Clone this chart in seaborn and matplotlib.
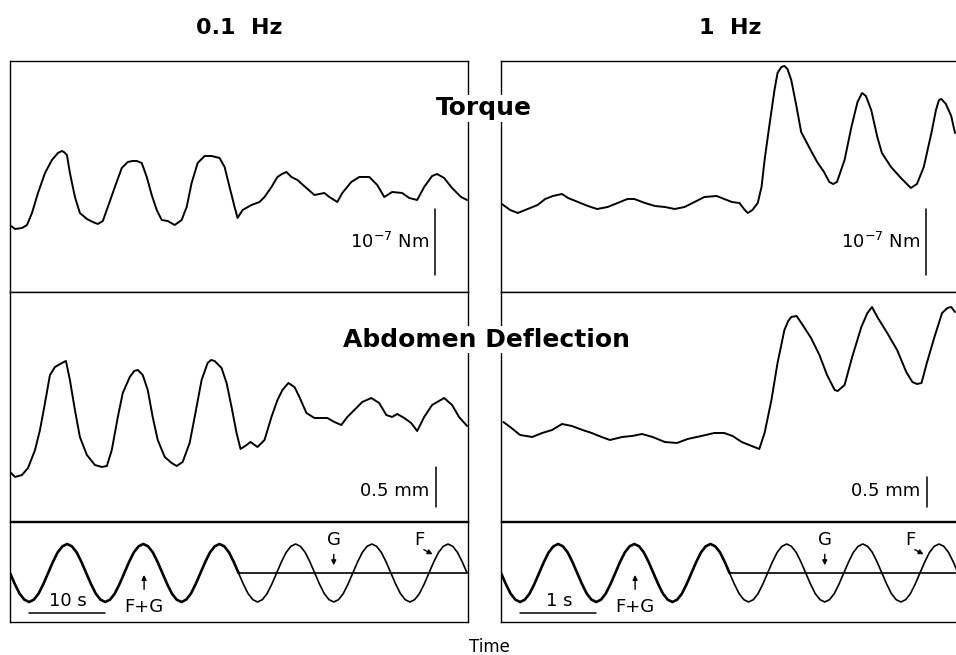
import numpy as np
import matplotlib
matplotlib.use('Agg')
import matplotlib.pyplot as plt
import seaborn as sns

# ---- data (time in s, traces in arbitrary units) ----
# torque, 0.1 Hz stimulation
torque_slow_t = [0.13, 0.66, 1.57, 2.23, 2.88, 3.67, 4.59, 5.50, 6.29, 6.80, 7.07, 7.47, 7.86, 8.52, 9.17,
                 10.09, 10.87, 11.53, 12.18, 12.84, 13.76, 14.67, 15.46, 16.10, 16.64, 17.29, 17.95, 18.60,
                 19.26, 19.91, 20.70, 21.62, 22.53, 23.19, 23.84, 24.63, 25.55, 26.46, 27.51, 28.17,
                 28.82, 29.48, 29.87, 30.53, 31.70, 32.75, 33.41, 34.32, 35.11, 35.70, 36.29, 36.94, 37.73,
                 38.91, 39.96, 41.27, 41.92, 42.97, 43.62, 44.80, 45.85, 47.16, 48.21, 49.13, 50.17,
                 51.48, 52.40, 53.45, 54.37, 55.41, 56.07, 56.99, 58.03, 59.21, 60.00]
torque_slow = [66, 63, 64, 67, 79, 99, 119, 132, 139, 141, 140, 137, 119, 95, 79,
               73, 70, 68, 71, 85, 105, 124, 130, 131, 131, 129, 115, 97,
               82, 72, 71, 67, 72, 85, 109, 129, 136, 136, 134, 125,
               105, 85, 74, 82, 87, 90, 95, 105, 115, 118, 120, 115, 112,
               104, 97, 99, 95, 90, 99, 110, 115, 115, 107, 95, 100,
               99, 94, 92, 105, 116, 118, 114, 104, 95, 92]

# torque, 1 Hz stimulation
torque_fast_t = [0.01, 0.12, 0.22, 0.35, 0.48, 0.58, 0.68, 0.80, 0.88, 1.01, 1.14, 1.26, 1.40, 1.53,
                 1.66, 1.75, 1.89, 2.02, 2.15, 2.28, 2.41, 2.54, 2.67, 2.83, 2.93, 3.03, 3.13, 3.20,
                 3.24, 3.30, 3.37, 3.42, 3.46, 3.52, 3.59, 3.63, 3.68, 3.72, 3.76, 3.81, 3.88, 3.94, 4.05,
                 4.15, 4.24, 4.31, 4.36, 4.41, 4.51, 4.60, 4.68, 4.74, 4.79, 4.86, 4.94, 5.00, 5.12, 5.25,
                 5.38, 5.46, 5.55, 5.65, 5.71, 5.75, 5.78, 5.84, 5.91, 5.96]
torque_fast = [88, 82, 79, 83, 87, 93, 96, 98, 94, 90, 86, 83, 85, 89,
               93, 93, 89, 86, 85, 83, 85, 90, 95, 96, 93, 90, 89, 82,
               79, 82, 89, 105, 132, 165, 202, 219, 225, 226, 223, 212, 185, 160, 144,
               130, 120, 110, 108, 110, 132, 165, 190, 199, 196, 182, 155, 139, 125, 114,
               104, 108, 125, 159, 182, 192, 193, 188, 176, 159]

# abdomen deflection, 0.1 Hz stimulation
defl_slow_t = [0.00, 0.66, 1.57, 2.36, 3.28, 3.93, 4.59, 5.24, 5.90, 6.81, 7.34, 7.86, 8.52, 9.17,
               10.09, 11.14, 12.05, 12.71, 13.36, 14.15, 14.80, 15.72, 16.30, 16.77, 17.42, 18.08, 18.73,
               19.39, 20.31, 21.22, 21.88, 22.66, 23.58, 24.24, 25.15, 25.94, 26.40, 26.86, 27.77, 28.43,
               29.08, 29.74, 30.26, 31.05, 31.57, 32.49, 33.41, 34.32, 35.11, 35.76, 36.55, 37.34,
               37.99, 38.91, 39.96, 41.66, 42.58, 43.49, 44.28, 45.20, 46.24, 47.42, 48.47, 49.39,
               50.17, 50.83, 51.75, 52.66, 53.45, 54.37, 55.41, 56.99, 58.03, 58.95, 60.00]
defl_slow = [49, 44, 46, 53, 71, 91, 118, 146, 154, 158, 160, 141, 111, 84,
             66, 56, 54, 55, 71, 104, 128, 144, 150, 151, 146, 131, 104,
             81, 64, 58, 55, 59, 78, 104, 141, 158, 161, 160, 153, 138,
             114, 88, 72, 76, 79, 74, 81, 104, 121, 131, 138, 134,
             124, 108, 103, 103, 99, 96, 104, 111, 119, 123, 118, 106,
             104, 107, 103, 98, 90, 104, 116, 123, 116, 104, 95]

# abdomen deflection, 1 Hz stimulation
defl_fast_t = [0.03, 0.12, 0.25, 0.41, 0.54, 0.67, 0.80, 0.93, 1.07, 1.19, 1.32, 1.43, 1.59, 1.72,
               1.85, 1.99, 2.15, 2.31, 2.45, 2.63, 2.80, 2.93, 3.04, 3.16, 3.29, 3.39, 3.46, 3.55,
               3.63, 3.72, 3.77, 3.81, 3.88, 3.96, 4.07, 4.18, 4.28, 4.38, 4.42, 4.51, 4.61, 4.73, 4.81, 4.87,
               4.94, 5.07, 5.20, 5.32, 5.40, 5.46, 5.52, 5.59, 5.69, 5.79, 5.86, 5.91, 5.96]
defl_fast = [99, 94, 86, 84, 88, 91, 97, 95, 91, 88, 84, 81, 84, 85,
             87, 84, 79, 78, 82, 85, 88, 88, 85, 79, 75, 72, 88, 121,
             158, 191, 200, 204, 205, 196, 183, 166, 146, 131, 130, 136, 164, 194, 208, 214,
             204, 188, 171, 149, 139, 137, 138, 158, 184, 208, 213, 214, 209]

# stimulus position (sinusoid, amplitude units), 16 samples per cycle
stim_phase = np.linspace(0, 6, 97)  # time in stimulus cycles
stim = [0, -0.38, -0.71, -0.92, -1, -0.92, -0.71, -0.38, 0, 0.38, 0.71, 0.92, 1, 0.92, 0.71, 0.38,
        0, -0.38, -0.71, -0.92, -1, -0.92, -0.71, -0.38, 0, 0.38, 0.71, 0.92, 1, 0.92, 0.71, 0.38,
        0, -0.38, -0.71, -0.92, -1, -0.92, -0.71, -0.38, 0, 0.38, 0.71, 0.92, 1, 0.92, 0.71, 0.38,
        0, -0.38, -0.71, -0.92, -1, -0.92, -0.71, -0.38, 0, 0.38, 0.71, 0.92, 1, 0.92, 0.71, 0.38,
        0, -0.38, -0.71, -0.92, -1, -0.92, -0.71, -0.38, 0, 0.38, 0.71, 0.92, 1, 0.92, 0.71, 0.38,
        0, -0.38, -0.71, -0.92, -1, -0.92, -0.71, -0.38, 0, 0.38, 0.71, 0.92, 1, 0.92, 0.71, 0.38,
        0]
periods = [10.0, 1.0]          # s, for 0.1 Hz and 1 Hz
col_titles = ['0.1  Hz', '1  Hz']
bar_labels = ['10 s', '1 s']
torque_bar = 66                # a.u. corresponding to 10^-7 Nm
defl_bar = [40, 30]            # a.u. corresponding to 0.5 mm

sns.set_theme(style='white')
plt.rcParams['font.family'] = ['DejaVu Sans']
plt.rcParams['text.color'] = 'black'
plt.rcParams['mathtext.default'] = 'regular'

fig = plt.figure(figsize=(9.56, 6.55), dpi=100)

col_x = [0.0105, 0.5241]
col_w = 0.4791
rows = [(0.5542, 0.3527), (0.2046, 0.3496), (0.0504, 0.1527)]

traces = [[(torque_slow_t, torque_slow), (defl_slow_t, defl_slow)],
          [(torque_fast_t, torque_fast), (defl_fast_t, defl_fast)]]

line_kw = dict(color='black', solid_joinstyle='round', solid_capstyle='round')

for c in range(2):
    T = periods[c]
    tmax = 6 * T
    axes = [fig.add_axes([col_x[c], b, col_w, h]) for b, h in rows]
    for ax in axes:
        ax.set_xlim(0, tmax * 459 / 458)
        ax.set_xticks([])
        ax.set_yticks([])
        for s in ax.spines.values():
            s.set_color('black')
            s.set_linewidth(1.0)
    axes[0].set_ylim(0, 231)
    axes[1].set_ylim(0, 229)
    axes[2].set_ylim(-1.69, 1.76)

    for r in range(2):
        t, y = traces[c][r]
        sns.lineplot(x=t, y=y, ax=axes[r], linewidth=1.4, **line_kw)

    # scale bars and units
    u = T / 10.0
    axes[0].plot([55.8 * u, 55.8 * u], [17, 17 + torque_bar], color='black', lw=1.1)
    axes[0].text(55.0 * u, 50, r'10$^{-7}$ Nm', ha='right', va='center', fontsize=13)
    axes[1].plot([55.9 * u, 55.9 * u], [14, 14 + defl_bar[c]], color='black', lw=1.1)
    axes[1].text(55.0 * u, 30, '0.5 mm', ha='right', va='center', fontsize=13)

    # stimulus: F+G together, then G held still while F keeps moving
    st = stim_phase * T
    sns.lineplot(x=st[:49], y=stim[:49], ax=axes[2], linewidth=1.9, **line_kw)
    sns.lineplot(x=st[48:], y=stim[48:], ax=axes[2], linewidth=1.2, **line_kw)
    sns.lineplot(x=[3 * T, 6 * T], y=[0, 0], ax=axes[2], linewidth=1.2, color='black')

    ax = axes[2]
    ax.plot([2.5 * u, 12.5 * u], [-1.38, -1.38], color='black', lw=1.1)
    ax.text(7.6 * u, -0.98, bar_labels[c], ha='center', va='center', fontsize=13)
    ax.text(17.5 * u, -1.17, 'F+G', ha='center', va='center', fontsize=13)
    ax.annotate('', xy=(17.6 * u, 0.03), xytext=(17.6 * u, -0.66),
                arrowprops=dict(arrowstyle='-|>', color='black', lw=1, mutation_scale=7))
    ax.text(42.5 * u, 1.14, 'G', ha='center', va='center', fontsize=13)
    ax.annotate('', xy=(42.5 * u, 0.17), xytext=(42.5 * u, 0.74),
                arrowprops=dict(arrowstyle='-|>', color='black', lw=1, mutation_scale=7))
    ax.text(53.8 * u, 1.14, 'F', ha='center', va='center', fontsize=13)
    ax.annotate('', xy=(55.8 * u, 0.6), xytext=(54.0 * u, 0.85),
                arrowprops=dict(arrowstyle='-|>', color='black', lw=1, mutation_scale=7))

    fig.text(col_x[c] + col_w / 2, 0.957, col_titles[c], ha='center', va='center',
             fontsize=16, fontweight='bold')

box = dict(facecolor='white', edgecolor='none', pad=1)
fig.text(0.5063, 0.835, 'Torque', ha='center', va='center', fontsize=18, fontweight='bold', bbox=box)
fig.text(0.5094, 0.481, 'Abdomen Deflection', ha='center', va='center', fontsize=18,
         fontweight='bold', bbox=box)
fig.text(0.5115, 0.012, 'Time', ha='center', va='center', fontsize=12)

fig.savefig('out.png', dpi=100, facecolor='white')
